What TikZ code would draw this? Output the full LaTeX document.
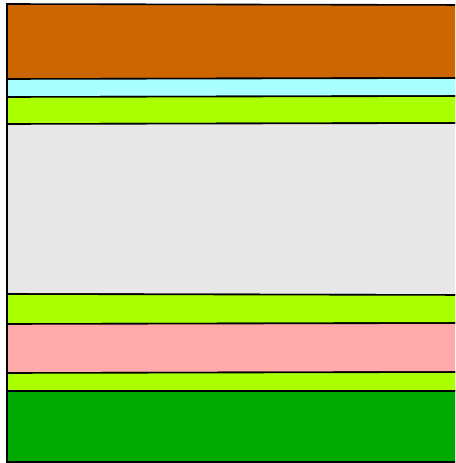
\documentclass[tikz,border=0pt]{standalone}
\definecolor{rust}{RGB}{204,102,0}
\definecolor{aqua}{RGB}{170,255,255}
\definecolor{lime}{RGB}{170,255,0}
\definecolor{lgrey}{RGB}{232,232,232}
\definecolor{rosy}{RGB}{255,170,170}
\definecolor{dgreen}{RGB}{0,170,0}
\begin{document}
\begin{tikzpicture}[x=1pt,y=-1pt,layer/.style={draw=black,line width=1.6pt,line join=miter}]
\useasboundingbox (0,0) rectangle (455,463);
\clip (0,0) rectangle (455,463);
\fill[white] (0,0) rectangle (455,463);
\draw[layer,fill=rust]   (7,4)   -- (470,5)   -- (470,78)  -- (7,79)  -- cycle;
\draw[layer,fill=aqua]   (7,79)  -- (470,78)  -- (470,96)  -- (7,97)  -- cycle;
\draw[layer,fill=lime]   (7,97)  -- (470,96)  -- (470,123) -- (7,124) -- cycle;
\draw[layer,fill=lgrey]  (7,124) -- (470,123) -- (470,295) -- (7,294) -- cycle;
\draw[layer,fill=lime]   (7,294) -- (470,295) -- (470,323) -- (7,324) -- cycle;
\draw[layer,fill=rosy]   (7,324) -- (470,323) -- (470,372) -- (7,373) -- cycle;
\draw[layer,fill=lime]   (7,373) -- (470,372) -- (470,391) -- (7,391) -- cycle;
\draw[layer,fill=dgreen] (7,391) -- (470,391) -- (470,462) -- (7,462) -- cycle;
\end{tikzpicture}
\end{document}
